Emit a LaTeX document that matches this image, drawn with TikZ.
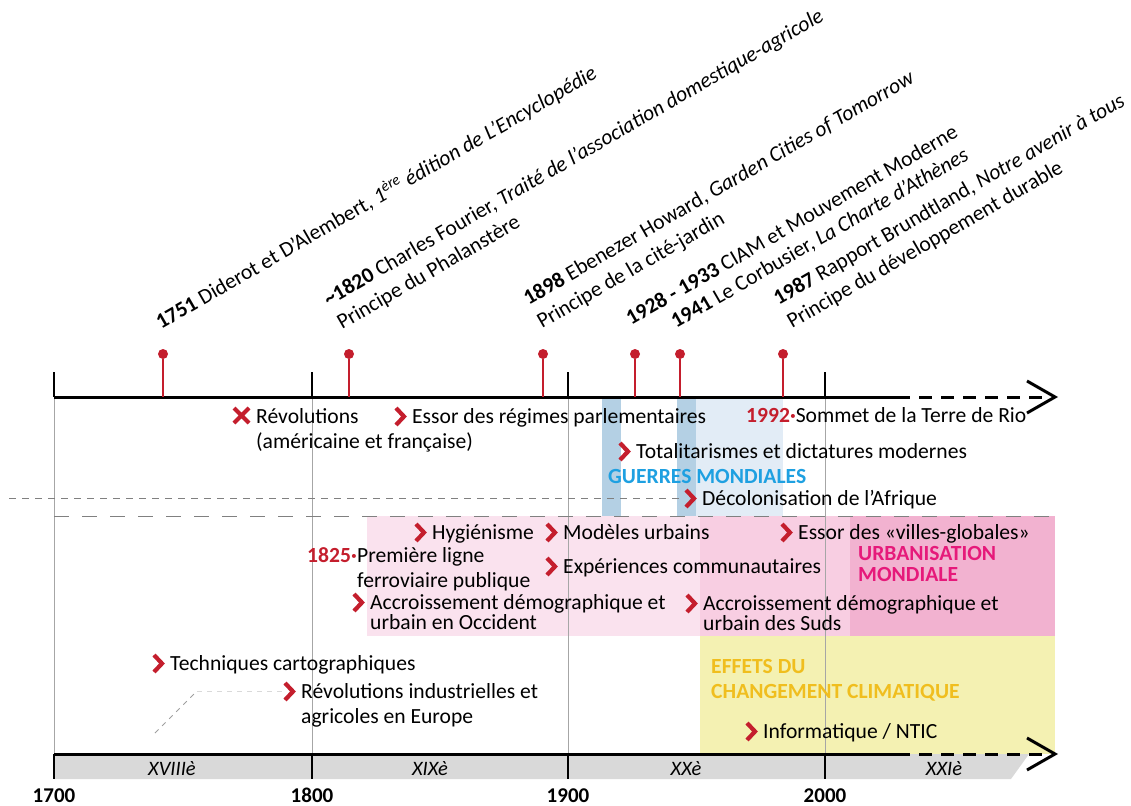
\documentclass[tikz,border=0pt]{standalone}
\usepackage{fontspec}
\setmainfont{Carlito}
\usepackage{tikz}
\usetikzlibrary{calc}
\definecolor{evred}{RGB}{196,30,45}
\definecolor{warblue}{RGB}{30,160,225}
\definecolor{urbmag}{RGB}{230,25,122}
\definecolor{climorange}{RGB}{240,190,30}
\definecolor{warband}{RGB}{180,208,228}
\definecolor{postwar}{RGB}{226,236,246}
\definecolor{pinkA}{RGB}{250,226,238}
\definecolor{pinkB}{RGB}{248,206,226}
\definecolor{pinkC}{RGB}{242,178,208}
\definecolor{climyellow}{RGB}{244,241,178}
\definecolor{bandgray}{RGB}{217,217,217}
\tikzstyle{timeaxis} = [line width=3pt, line join=miter]
\tikzstyle{timedash} = [line width=3pt, dash pattern=on 13pt off 9pt]
\tikzstyle{yeartick} = [line width=2.5pt]
\tikzstyle{yearline} = [gray!70, line width=0.7pt]
\tikzstyle{stem} = [evred, line width=1.2pt]
\tikzstyle{dot} = [circle, fill=evred, inner sep=0pt, minimum size=10pt]
\tikzstyle{ev} = [inner sep=0pt, align=left, rotate=30, anchor=base west, font=\fontsize{21.6}{27}\selectfont]
\tikzstyle{txt} = [inner sep=0pt, align=left, anchor=base west, font=\fontsize{21.6}{25}\selectfont]
\tikzstyle{tag} = [txt, font=\fontsize{21.6}{25}\selectfont\bfseries]
\tikzstyle{cent} = [inner sep=0pt, anchor=base, font=\fontsize{20.5}{24}\selectfont\itshape]
\tikzstyle{yearlab} = [inner sep=0pt, anchor=base, font=\fontsize{21}{25}\selectfont\bfseries]
\tikzstyle{sepline} = [gray, line width=0.8pt, dash pattern=on 7pt off 6pt]
\tikzstyle{longsep} = [gray, line width=0.8pt, dash pattern=on 15pt off 13pt]
\tikzstyle{link} = [line width=0.8pt, dash pattern=on 5pt off 5pt]
\tikzset{
  chev/.pic={\draw[evred, line width=4.2pt] (-16,-15) -- (-8,-6.5) -- (-16,2);},
  xmark/.pic={\draw[evred, line width=4pt] (-22,-15) -- (-7,0) (-22,0) -- (-7,-15);}
}

\begin{document}
\begin{tikzpicture}[x=1pt,y=-1pt]
	\useasboundingbox (0,0) rectangle (1131,805);
	\fill[postwar] (696,397) rectangle (783,516);
	\fill[warband] (602,397) rectangle (621,516);
	\fill[warband] (677,397) rectangle (696,516);
	\fill[pinkA] (367,516) rectangle (700,636);
	\fill[pinkB] (700,516) rectangle (850,636);
	\fill[pinkC] (850,516) rectangle (1055,636);
	\fill[climyellow] (700,636) rectangle (1055,754);
	\fill[bandgray] (54,754) -- (1029,754) -- (1011,779) -- (54,779) -- cycle;
	\foreach \x in {54,312,568,825}
		\draw[yearline] (\x,397) -- (\x,754);
	\draw[longsep] (54,516) -- (1055,516);

	\draw[timeaxis] (54,397) -- (897,397);
	\draw[timedash] (897,397) -- (1050,397);
	\draw[timeaxis] (1027,381) -- (1055,397) -- (1027,413);
	\draw[timeaxis] (54,754) -- (897,754);
	\draw[timedash] (897,754) -- (1050,754);
	\draw[timeaxis] (1027,738) -- (1055,754) -- (1027,770);
	\foreach \x in {54,312,568,825}
		\draw[yeartick] (\x,372) -- (\x,397);
	\foreach \x/\y in {54/1700, 312/1800, 568/1900, 825/2000} {
		\draw[yeartick] (\x,754) -- (\x,779);
		\node[yearlab] (y\y) at (\x,802) {\y};
	}
	\foreach \x/\c/\s in {172/c18/XVIIIè, 430/c19/XIXè, 686/c20/XXè, 944/c21/XXIè}
		\node[cent] (\c) at (\x,775) {\s};

	\foreach \n/\x in {1751/163, 1820/349, 1898/543, 1928/635, 1941/680, 1987/783} {
		\node[dot] (p\n) at (\x,354) {};
		\coordinate (a\n) at (\x,397);
		\draw[stem] (p\n) -- (a\n);
	}
	\node[ev] (e1751) at (161,330) {\textbf{1751} Diderot et D’Alembert, \textit{1\textsuperscript{ère} édition de L’Encyclopédie}};
	\node[ev] (e1820) at (342,330) {\textbf{\textasciitilde1820} Charles Fourier, \textit{Traité de l’association domestique-agricole}\\Principe du Phalanstère};
	\node[ev] (e1898) at (542,329) {\textbf{1898} Ebenezer Howard, \textit{Garden Cities of Tomorrow}\\Principe de la cité-jardin};
	\node[ev] (e1928) at (631,326) {\textbf{1928 - 1933} CIAM et Mouvement Moderne};
	\node[ev] (e1941) at (676,329) {\textbf{1941} Le Corbusier, \textit{La Charte d’Athènes}};
	\node[ev] (e1987) at (792,329) {\textbf{1987} Rapport Brundtland, \textit{Notre avenir à tous}\\Principe du développement durable};

	\node[txt] (revo) at (256,448) {Révolutions\\(américaine et française)};
	\node[txt] (parl) at (412,423) {Essor des régimes parlementaires};
	\node[txt] (rio) at (746,422) {\textcolor{evred}{\bfseries 1992·}Sommet de la Terre de Rio};
	\node[txt] (tota) at (636,458) {Totalitarismes et dictatures modernes};
	\node[tag, text=warblue] (guer) at (608,483) {GUERRES MONDIALES};
	\node[txt] (deco) at (702,505) {Décolonisation de l’Afrique};
	\node[txt] (hyg) at (432,539) {Hygiénisme};
	\node[txt] (mod) at (563,539) {Modèles urbains};
	\node[txt] (glob) at (798,539) {Essor des «villes-globales»};
	\node[txt] (rail) at (357,587) {Première ligne\\ferroviaire publique};
	\node[tag, anchor=base east, text=evred] (y1825) at ($(rail.base west)+(0,-25)$) {1825·};
	\node[tag, text=urbmag] (urb) at (858,581) {URBANISATION\\[-4pt]MONDIALE};
	\node[txt] (exp) at (563,573) {Expériences communautaires};
	\node[txt] (occi) at (370,629) {Accroissement démographique et\\[-5pt]urbain en Occident};
	\node[txt] (suds) at (703,630) {Accroissement démographique et\\[-5pt]urbain des Suds};
	\node[txt] (carto) at (170,670) {Techniques cartographiques};
	\node[txt] (rind) at (301,723) {Révolutions industrielles et\\agricoles en Europe};
	\node[tag, text=climorange] (clim) at (711,698) {EFFETS DU\\CHANGEMENT CLIMATIQUE};
	\node[txt] (ntic) at (763,738) {Informatique / NTIC};

	\pic at ($(revo.base west)+(0,-25)$) {xmark};
	\foreach \n/\d in {parl/0, tota/0, deco/0, hyg/0, mod/0, glob/0, exp/0, occi/20, suds/20, carto/0, rind/25, ntic/0}
		\pic at ($(\n.base west)+(0,-\d)$) {chev};

	\coordinate (dstart) at (9,498);
	\draw[sepline] (dstart) -- ($(deco.base west)+(-20,-7)$);
	\coordinate (lstart) at (155,733);
	\coordinate (lbend) at (197,691);
	\draw[link, gray!75] (lstart) -- (lbend);
	\draw[link, gray!30] (lbend) -- ($(rind.base west)+(-16,-32)$);
\end{tikzpicture}
\end{document}
